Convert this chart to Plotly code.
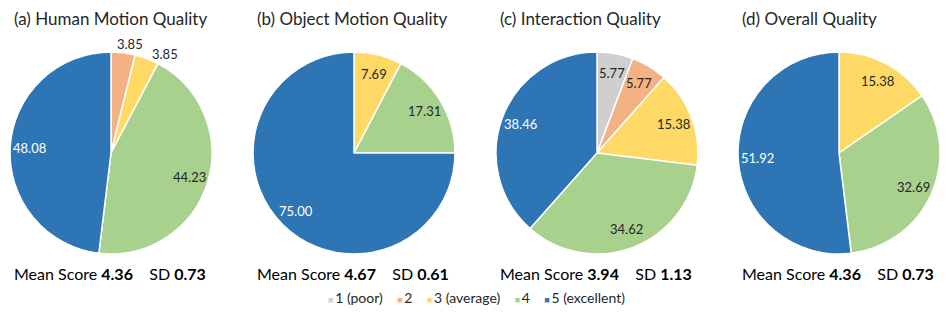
import math
import plotly.graph_objects as go

# ---------------- data ----------------
categories = ["1 (poor)", "2", "3 (average)", "4", "5 (excellent)"]
human_motion = [0, 3.85, 3.85, 44.23, 48.08]
object_motion = [0, 0, 7.69, 17.31, 75.00]
interaction = [5.77, 5.77, 15.38, 34.62, 38.46]
overall = [0, 0, 15.38, 32.69, 51.92]
panel_titles = ["(a) Human Motion Quality", "(b) Object Motion Quality",
                "(c) Interaction Quality", "(d) Overall Quality"]
mean_scores = [4.36, 4.67, 3.94, 4.36]
sd_scores = [0.73, 0.61, 1.13, 0.73]

# ---------------- style ----------------
colors = ["#D0CECE", "#F4B183", "#FFD966", "#A9D18E", "#2E75B6"]
label_colors = ["#262626", "#262626", "#262626", "#262626", "#FFFFFF"]
FONT = "Lato"
W, H = 947, 312
centers_x = [111, 354, 597, 839]
cy = 153
R = 101

fig = go.Figure()
annotations = []


def paper(px, py):
    return px / W, 1 - py / H


series = [human_motion, object_motion, interaction, overall]
for i, vals in enumerate(series):
    cx = centers_x[i]
    fig.add_trace(go.Pie(
        labels=categories, values=vals, sort=False, direction="clockwise",
        rotation=0,
        marker=dict(colors=colors, line=dict(color="white", width=1.5)),
        textinfo="none", hoverinfo="label+value", showlegend=False,
        domain=dict(x=[(cx - R) / W, (cx + R) / W],
                    y=[(H - cy - R) / H, (H - cy + R) / H]),
    ))
    total = sum(vals)
    cum = 0.0
    for j, v in enumerate(vals):
        if v <= 0:
            continue
        mid = (cum + v / 2) / total * 2 * math.pi
        cum += v
        s, c = math.sin(mid), math.cos(mid)
        if v < 5:
            # outside label, just beyond the rim
            px = cx + 1.02 * R * s + 1 + 46 * s
            py = cy - 1.02 * R * c + 62 - 69 * c
            x, y = paper(px, py)
            annotations.append(dict(x=x, y=y, xref="paper", yref="paper",
                                    text=f"{v:.2f}", showarrow=False,
                                    xanchor="center", yanchor="middle",
                                    font=dict(family=FONT, size=13, color="#262626")))
        else:
            rr = 0.81 * R
            px, py = cx + rr * s, cy - rr * c
            x, y = paper(px, py)
            annotations.append(dict(x=x, y=y, xref="paper", yref="paper",
                                    text=f"{v:.2f}", showarrow=False,
                                    xanchor="center", yanchor="middle",
                                    font=dict(family=FONT, size=13, color=label_colors[j])))
    # title
    tx, ty = paper(cx - R + 2, 18)
    annotations.append(dict(x=tx, y=ty, xref="paper", yref="paper",
                            text=panel_titles[i], showarrow=False,
                            xanchor="left", yanchor="middle",
                            font=dict(family=FONT, size=17, color="#262626")))
    # mean / sd
    mx, my = paper(cx - 1, 273)
    annotations.append(dict(x=mx, y=my, xref="paper", yref="paper",
                            text=f"Mean Score <b>{mean_scores[i]:.2f}</b>    SD <b>{sd_scores[i]:.2f}</b>",
                            showarrow=False, xanchor="center", yanchor="middle",
                            font=dict(family=FONT, size=16, color="#000000")))

# legend as text
legend_parts = []
for col, cat in zip(colors, categories):
    legend_parts.append(f'<span style="color:{col};font-size:9px">■</span>\u2009{cat}')
lx, ly = paper(476, 297)
annotations.append(dict(x=lx, y=ly, xref="paper", yref="paper",
                        text="    ".join(legend_parts), showarrow=False,
                        xanchor="center", yanchor="middle",
                        font=dict(family=FONT, size=14, color="#262626")))

fig.update_layout(
    width=W, height=H,
    margin=dict(l=0, r=0, t=0, b=0),
    paper_bgcolor="white", plot_bgcolor="white",
    annotations=annotations,
    showlegend=False,
)

fig.write_html("out.html", config={"displayModeBar": False},
               post_script="document.body.style.margin='0';document.body.style.padding='0';")
